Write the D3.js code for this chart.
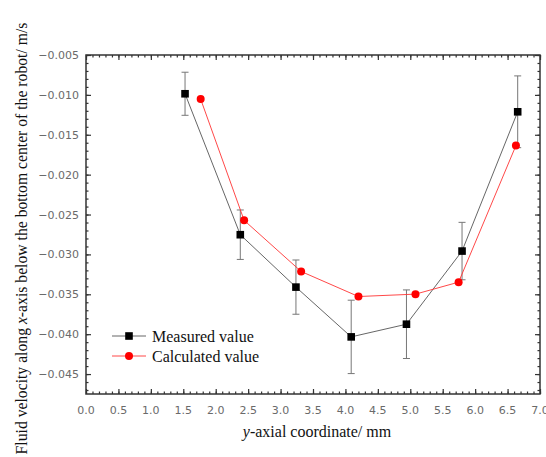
<!DOCTYPE html>
<html>
<head>
<meta charset="utf-8">
<script src="https://cdn.jsdelivr.net/npm/d3@7"></script>
<style>
    body { margin: 0; background: #fff; }
    .tick-label { font-family: "DejaVu Sans", sans-serif; font-size: 11px; fill: #6a6a6a; }
    .title { font-family: "Liberation Serif", "Times New Roman", serif; font-size: 16px; fill: #111; }
</style>
</head>
<body>
<div id="chart"></div>
<script>

// data
var measuredX = [1.527, 2.379, 3.237, 4.089, 4.941, 5.798, 6.656];
var measuredY = [-0.00986, -0.02753, -0.0341, -0.04034, -0.03875, -0.02958, -0.01212];
var measuredErr = [0.0027, 0.0031, 0.0034, 0.0046, 0.0043, 0.0036, 0.0045];

var calculatedX = [1.768, 2.438, 3.317, 4.201, 5.080, 5.745, 6.629];
var calculatedY = [-0.01053, -0.02573, -0.03214, -0.03528, -0.03498, -0.03348, -0.01635];

var xTicks = [0, 0.5, 1, 1.5, 2, 2.5, 3, 3.5, 4, 4.5, 5, 5.5, 6, 6.5, 7];
var yTicks = [-0.005, -0.010, -0.015, -0.020, -0.025, -0.030, -0.035, -0.040, -0.045];

var seriesNames = ["Measured value", "Calculated value"];

var w = 546, h = 457;
var margin = {top: 55, right: 6, bottom: 63, left: 86};
var width = w - margin.left - margin.right,
    height = h - margin.top - margin.bottom;

var x = d3.scaleLinear().domain([0, 7]).range([0, width]);
var y = d3.scaleLinear().domain([-0.0475, -0.005]).range([height, 0]);

var svg = d3.select("#chart").append("svg")
    .attr("width", w)
    .attr("height", h)
    .append("g")
    .attr("transform", "translate(" + margin.left + "," + margin.top + ")");

var fmtX = d3.format(".1f");
var fmtY = function(d){ return d3.format(".3f")(d).replace("-", "\u2212"); };

// minor tick values
var xMinor = d3.range(0, 71).map(function(d){ return d / 10; });
var yMinor = d3.range(5, 48).map(function(d){ return -d / 1000; });

// inward ticks on all four sides
function tickAxis(axis, scale, values, size) {
    return axis(scale).tickValues(values).tickSize(-size).tickFormat("");
}

svg.append("g").attr("class", "ax").attr("transform", "translate(0," + height + ")")
    .call(tickAxis(d3.axisBottom, x, xMinor, 2.5));
svg.append("g").attr("class", "ax").attr("transform", "translate(0," + height + ")")
    .call(tickAxis(d3.axisBottom, x, xTicks, 5));
svg.append("g").attr("class", "ax")
    .call(tickAxis(d3.axisTop, x, xMinor, 2.5));
svg.append("g").attr("class", "ax")
    .call(tickAxis(d3.axisTop, x, xTicks, 5));
svg.append("g").attr("class", "ax")
    .call(tickAxis(d3.axisLeft, y, yMinor, 2.5));
svg.append("g").attr("class", "ax")
    .call(tickAxis(d3.axisLeft, y, yTicks, 5));
svg.append("g").attr("class", "ax").attr("transform", "translate(" + width + ",0)")
    .call(tickAxis(d3.axisRight, y, yMinor, 2.5));
svg.append("g").attr("class", "ax").attr("transform", "translate(" + width + ",0)")
    .call(tickAxis(d3.axisRight, y, yTicks, 5));

svg.selectAll(".ax .domain").remove();
svg.selectAll(".ax line").attr("stroke", "#333").attr("stroke-width", 1.2);

// frame
svg.append("rect")
    .attr("width", width)
    .attr("height", height)
    .attr("fill", "none")
    .attr("stroke", "#333")
    .attr("stroke-width", 1.5);

// tick labels
svg.selectAll(".xlab")
    .data(xTicks)
    .enter().append("text")
    .attr("class", "tick-label")
    .attr("x", function(d){ return x(d); })
    .attr("y", height + 20)
    .attr("text-anchor", "middle")
    .text(fmtX);

svg.selectAll(".ylab")
    .data(yTicks)
    .enter().append("text")
    .attr("class", "tick-label")
    .attr("x", -7)
    .attr("y", function(d){ return y(d) + 4; })
    .attr("text-anchor", "end")
    .text(fmtY);

// axis titles
var xt = svg.append("text")
    .attr("class", "title")
    .attr("x", width / 2 + 4)
    .attr("y", height + 43)
    .attr("text-anchor", "middle");
xt.append("tspan").style("font-style", "italic").text("y");
xt.append("tspan").text("-axial coordinate/ mm");

var yt = svg.append("text")
    .attr("class", "title")
    .style("font-size", "15.7px")
    .attr("transform", "rotate(-90)")
    .attr("x", -(height / 2) - 14)
    .attr("y", -margin.left + 27)
    .attr("text-anchor", "middle");
yt.append("tspan").text("Fluid velocity along ");
yt.append("tspan").style("font-style", "italic").text("x");
yt.append("tspan").text("-axis below the bottom center of the robot/ m/s");

var measured = measuredX.map(function(d, i){
    return {x: d, y: measuredY[i], e: measuredErr[i]};
});
var calculated = calculatedX.map(function(d, i){
    return {x: d, y: calculatedY[i]};
});

var line = d3.line()
    .x(function(d){ return x(d.x); })
    .y(function(d){ return y(d.y); });

// error bars
var eb = svg.selectAll(".err")
    .data(measured)
    .enter().append("g")
    .attr("class", "err")
    .attr("stroke", "#777")
    .attr("stroke-width", 1);
eb.append("line")
    .attr("x1", function(d){ return x(d.x); })
    .attr("x2", function(d){ return x(d.x); })
    .attr("y1", function(d){ return y(d.y + d.e); })
    .attr("y2", function(d){ return y(d.y - d.e); });
eb.append("line")
    .attr("x1", function(d){ return x(d.x) - 3.5; })
    .attr("x2", function(d){ return x(d.x) + 3.5; })
    .attr("y1", function(d){ return y(d.y + d.e); })
    .attr("y2", function(d){ return y(d.y + d.e); });
eb.append("line")
    .attr("x1", function(d){ return x(d.x) - 3.5; })
    .attr("x2", function(d){ return x(d.x) + 3.5; })
    .attr("y1", function(d){ return y(d.y - d.e); })
    .attr("y2", function(d){ return y(d.y - d.e); });

svg.append("path")
    .datum(measured)
    .attr("fill", "none")
    .attr("stroke", "#555")
    .attr("stroke-width", 0.9)
    .attr("d", line);

svg.append("path")
    .datum(calculated)
    .attr("fill", "none")
    .attr("stroke", "#f33")
    .attr("stroke-width", 0.9)
    .attr("d", line);

svg.selectAll(".sq")
    .data(measured)
    .enter().append("rect")
    .attr("x", function(d){ return x(d.x) - 3.8; })
    .attr("y", function(d){ return y(d.y) - 3.8; })
    .attr("width", 7.6)
    .attr("height", 7.6)
    .attr("fill", "#000");

svg.selectAll(".dot")
    .data(calculated)
    .enter().append("circle")
    .attr("cx", function(d){ return x(d.x); })
    .attr("cy", function(d){ return y(d.y); })
    .attr("r", 4)
    .attr("fill", "#f00");

// legend
var legend = svg.append("g").attr("transform", "translate(26,281)");
var legendColors = ["#555", "#f33"];
seriesNames.forEach(function(name, i){
    var g = legend.append("g").attr("transform", "translate(0," + (i * 20) + ")");
    g.append("line")
        .attr("x1", 0).attr("x2", 34)
        .attr("stroke", legendColors[i])
        .attr("stroke-width", 0.9);
    if (i == 0) {
        g.append("rect").attr("x", 13.2).attr("y", -3.8)
            .attr("width", 7.6).attr("height", 7.6).attr("fill", "#000");
    } else {
        g.append("circle").attr("cx", 17).attr("r", 4).attr("fill", "#f00");
    }
    g.append("text")
        .attr("class", "title")
        .attr("x", 40)
        .attr("y", 6)
        .text(name);
});

</script>
</body>
</html>
